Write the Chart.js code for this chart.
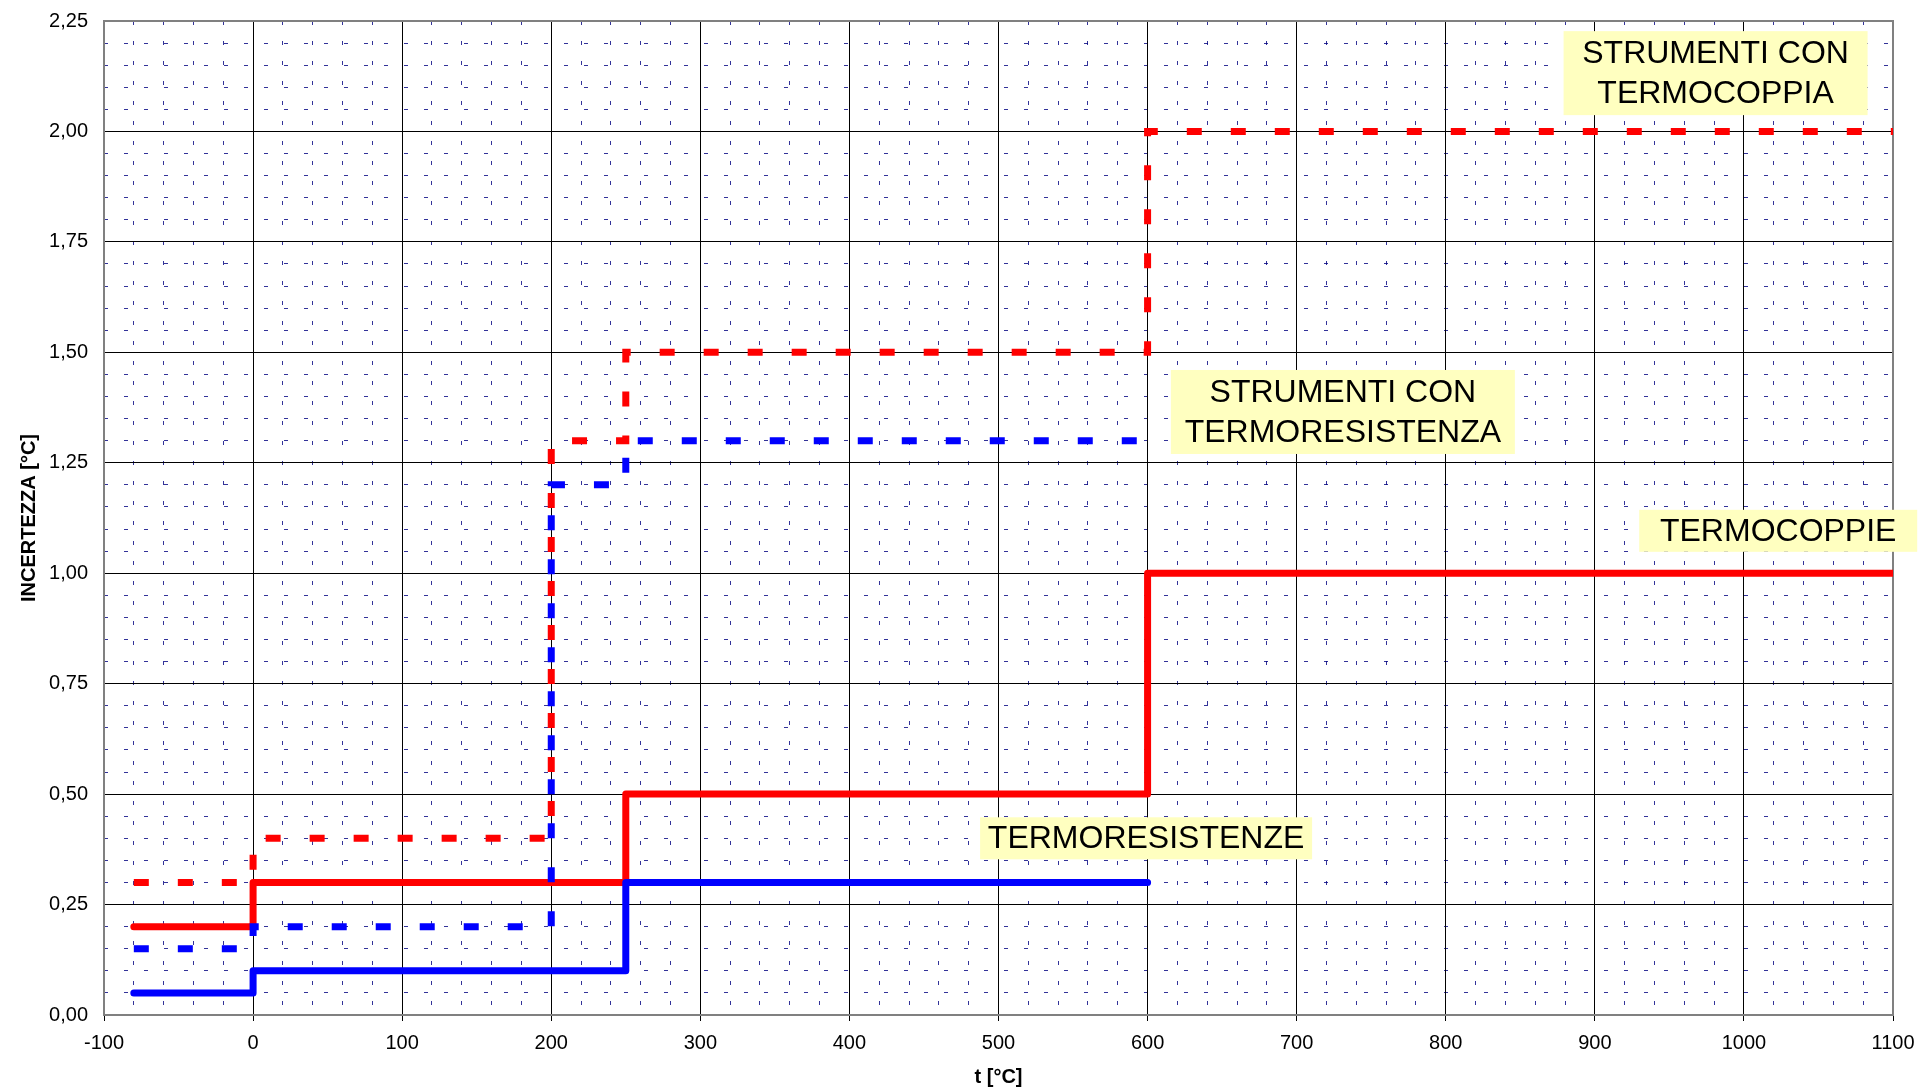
<!DOCTYPE html>
<html>
<head>
<meta charset="utf-8">
<script src="https://cdn.jsdelivr.net/npm/chart.js@4.4.0/dist/chart.umd.min.js"></script>
<style>
  html, body { margin: 0; padding: 0; background: #fff; overflow: hidden; }
  #wrap { width: 1921px; height: 1090px; position: relative; }
</style>
</head>
<body>
<div id="wrap"><canvas id="chart"></canvas></div>
<script>
// tick labels
const xTicks = [-100, 0, 100, 200, 300, 400, 500, 600, 700, 800, 900, 1000, 1100];
const yTicks = [0, 0.25, 0.5, 0.75, 1, 1.25, 1.5, 1.75, 2, 2.25];

// step series: value holds from each x until the next one
const tcX = [-80, 0, 250, 600, 1100];          // TERMOCOPPIE
const tcY = [0.2, 0.3, 0.5, 1.0, 1.0];
const trX = [-80, 0, 250, 600];                // TERMORESISTENZE
const trY = [0.05, 0.1, 0.3, 0.3];
const strTcX = [-80, 0, 200, 250, 600, 1100];  // STRUMENTI CON TERMOCOPPIA
const strTcY = [0.3, 0.4, 1.3, 1.5, 2.0, 2.0];
const strTrX = [-80, 0, 200, 250, 600];        // STRUMENTI CON TERMORESISTENZA
const strTrY = [0.15, 0.2, 1.2, 1.3, 1.3];

// text boxes, anchored in data coordinates (box centre), box size in px
const notes = [
  { lines: ["STRUMENTI CON", "TERMOCOPPIA"], x: 981, y: 2.132, w: 304, h: 84 },
  { lines: ["STRUMENTI CON", "TERMORESISTENZA"], x: 731, y: 1.365, w: 344, h: 84 },
  { lines: ["TERMOCOPPIE"], x: 1023, y: 1.096, w: 278, h: 42 },
  { lines: ["TERMORESISTENZE"], x: 599, y: 0.40, w: 332, h: 42 },
];

const FONT = "'Liberation Sans', Arial, sans-serif";
const pts = (xs, ys) => xs.map((x, i) => ({ x: x, y: ys[i] }));

// let layout.padding alone decide where the plot area sits
const noPad = (s) => { s.paddingTop = 0; s.paddingBottom = 0; s.paddingLeft = 0; s.paddingRight = 0; };

const framePlugin = {
  id: "frame",
  beforeDatasetsDraw(chart) {
    const a = chart.chartArea, ctx = chart.ctx;
    ctx.save();
    ctx.strokeStyle = "#808080";
    ctx.lineWidth = 2;
    ctx.strokeRect(a.left, a.top, a.right - a.left, a.bottom - a.top);
    ctx.restore();
  }
};

const notesPlugin = {
  id: "notes",
  afterDraw(chart) {
    const ctx = chart.ctx, xs = chart.scales.x, ys = chart.scales.y;
    ctx.save();
    ctx.font = "32px " + FONT;
    ctx.textAlign = "center";
    ctx.textBaseline = "middle";
    notes.forEach((n) => {
      const cx = xs.getPixelForValue(n.x), cy = ys.getPixelForValue(n.y);
      const lh = 40;
      ctx.fillStyle = "#ffffc0";
      ctx.fillRect(cx - n.w / 2, cy - n.h / 2, n.w, n.h);
      ctx.fillStyle = "#000";
      n.lines.forEach((l, i) => {
        ctx.fillText(l, cx, cy + lh * (i - (n.lines.length - 1) / 2) + 1);
      });
    });
    ctx.restore();
  }
};

const solid = (color, data) => ({
  data: data, borderColor: color, borderWidth: 7, stepped: "before",
  pointRadius: 0, borderCapStyle: "round", borderJoinStyle: "round", fill: false,
});
const dashed = (color, data) => ({
  data: data, borderColor: color, borderWidth: 7, stepped: "before",
  pointRadius: 0, borderDash: [15, 29], borderCapStyle: "butt", borderJoinStyle: "miter", fill: false,
});

new Chart(document.getElementById("chart"), {
  type: "line",
  data: {
    datasets: [
      dashed("#0000ff", pts(strTrX, strTrY)),
      dashed("#ff0000", pts(strTcX, strTcY)),
      solid("#0000ff", pts(trX, trY)),
      solid("#ff0000", pts(tcX, tcY)),
    ],
  },
  options: {
    responsive: true,
    maintainAspectRatio: false,
    animation: false,
    layout: { padding: { top: 21, right: 28, left: 0, bottom: 0 } },
    plugins: { legend: { display: false }, tooltip: { enabled: false } },
    scales: {
      xm: {
        type: "linear", position: "bottom", min: -100, max: 1100,
        ticks: { display: false, stepSize: 20 },
        grid: { color: "rgba(0,0,128,0.8)", lineWidth: 1, drawTicks: false },
        border: { display: false, dash: [4, 16] },
        afterFit: (s) => { s.height = 0; noPad(s); },
      },
      ym: {
        type: "linear", position: "left", min: 0, max: 2.25,
        ticks: { display: false, stepSize: 0.05 },
        grid: { color: "rgba(0,0,128,0.8)", lineWidth: 1, drawTicks: false },
        border: { display: false, dash: [4, 16] },
        afterFit: (s) => { s.width = 0; noPad(s); },
      },
      x: {
        type: "linear", position: "bottom", min: -100, max: 1100,
        afterBuildTicks: (s) => { s.ticks = xTicks.map((v) => ({ value: v })); },
        ticks: {
          autoSkip: false, maxRotation: 0, padding: 10, color: "#000",
          font: { family: FONT, size: 20 },
          callback: (v) => String(v),
        },
        grid: { color: "#000", lineWidth: 1, drawTicks: true, tickLength: 6, tickColor: "#000" },
        border: { display: false },
        title: {
          display: true, text: "t [°C]", color: "#000",
          font: { family: FONT, size: 20, weight: "bold" }, padding: { top: 0, bottom: 1 },
        },
        afterFit: (s) => { s.height = 75; noPad(s); },
      },
      y: {
        type: "linear", position: "left", min: 0, max: 2.25,
        afterBuildTicks: (s) => { s.ticks = yTicks.map((v) => ({ value: v })); },
        ticks: {
          padding: 16, color: "#000", font: { family: FONT, size: 20 },
          callback: (v) => v.toFixed(2).replace(".", ","),
        },
        grid: { color: "#000", lineWidth: 1, drawTicks: false },
        border: { display: false },
        title: {
          display: true, text: "INCERTEZZA [°C]", color: "#000",
          font: { family: FONT, size: 20, weight: "bold" }, padding: { top: 17, bottom: 0 },
        },
        afterFit: (s) => { s.width = 104; noPad(s); },
      },
    },
  },
  plugins: [framePlugin, notesPlugin],
});
</script>
</body>
</html>
